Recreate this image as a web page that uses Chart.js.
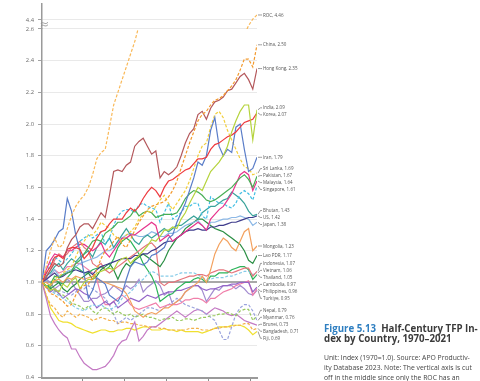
<!DOCTYPE html>
<html>
<head>
<meta charset="utf-8">
<script src="https://cdn.jsdelivr.net/npm/chart.js@4.4.1/dist/chart.umd.min.js"></script>
<style>
  html, body { margin: 0; padding: 0; background: #fff; width: 480px; height: 381px; overflow: hidden; }
  #wrap { position: relative; width: 480px; height: 381px; overflow: hidden; }
  #chart { position: absolute; left: 0; top: -4px; }
  .cap { position: absolute; left: 324px; font-family: "Open Sans", sans-serif; white-space: nowrap; }
  .title { top: 324px; font-size: 9.7px; font-weight: 700; color: #3b3b3b; line-height: 10.3px; }
  .title .fig { color: #2f7fc1; }
  .note { top: 353px; font-size: 6.8px; color: #444; line-height: 10px; }
</style>
</head>
<body>
<div id="wrap">
  <canvas id="chart" width="480" height="389"></canvas>
  <div class="cap title"><span class="fig">Figure 5.13</span>&nbsp; Half-Century TFP In-<br>dex by Country, 1970–2021</div>
  <div class="cap note">Unit: Index (1970=1.0). Source: APO Productiv-<br>ity Database 2023. Note: The vertical axis is cut<br>off in the middle since only the ROC has an</div>
</div>
<script>
// Years 1970-2021
const firstYear = 1970;
const lastYear = 2021;
const years = [];
for (let y = firstYear; y <= lastYear; y++) years.push(y);

// TFP index (1970=1.0)
const roc = [1.00,1.10,1.20,1.28,1.22,1.24,1.34,1.42,1.48,1.52,
  1.55,1.60,1.68,1.78,1.82,1.84,1.98,2.12,2.20,2.28,
  2.36,2.44,2.52,2.62,2.72,2.80,2.88,2.96,3.02,3.10,
  3.18,3.20,3.30,3.38,3.46,3.52,3.60,3.70,3.70,3.68,
  3.86,3.92,3.96,4.00,4.06,4.08,4.12,4.18,4.22,4.33,
  4.41,4.46];
const china = [1.00,0.97,0.93,0.92,0.90,0.88,0.85,0.86,0.92,0.96,
  0.98,0.99,1.03,1.08,1.15,1.20,1.22,1.26,1.29,1.24,
  1.22,1.27,1.33,1.38,1.42,1.46,1.48,1.49,1.50,1.51,
  1.54,1.58,1.64,1.72,1.80,1.88,1.95,2.02,2.06,2.08,
  2.12,2.15,2.16,2.18,2.21,2.24,2.28,2.34,2.41,2.41,
  2.36,2.50];
const hongKong = [1.00,1.03,1.08,1.12,1.10,1.12,1.22,1.27,1.30,1.35,
  1.37,1.37,1.34,1.39,1.44,1.41,1.55,1.70,1.71,1.70,
  1.74,1.76,1.86,1.89,1.91,1.86,1.81,1.83,1.66,1.70,
  1.68,1.70,1.73,1.80,1.88,1.94,1.97,2.06,2.08,2.03,
  2.10,2.14,2.15,2.17,2.21,2.22,2.26,2.30,2.32,2.28,
  2.22,2.35];
const india = [1.00,0.98,0.95,0.96,0.94,0.99,0.97,1.01,1.03,0.96,
  1.00,1.02,1.02,1.06,1.07,1.08,1.09,1.08,1.13,1.15,
  1.16,1.12,1.15,1.17,1.20,1.23,1.27,1.26,1.29,1.33,
  1.33,1.35,1.34,1.40,1.44,1.50,1.55,1.60,1.58,1.64,
  1.70,1.73,1.76,1.80,1.86,1.95,2.02,2.08,2.12,2.12,
  1.90,2.09];
const korea = [1.00,1.06,1.10,1.16,1.17,1.15,1.21,1.22,1.22,1.21,
  1.15,1.18,1.22,1.28,1.32,1.33,1.37,1.40,1.40,1.40,
  1.44,1.47,1.45,1.48,1.53,1.57,1.60,1.58,1.54,1.60,
  1.64,1.65,1.67,1.69,1.71,1.72,1.75,1.78,1.78,1.79,
  1.84,1.87,1.88,1.90,1.92,1.93,1.95,1.98,2.01,2.02,
  2.03,2.07];
const iran = [1.00,1.20,1.23,1.27,1.32,1.34,1.53,1.45,1.30,1.20,
  1.05,0.90,0.95,1.03,1.01,0.99,0.92,0.90,0.88,0.93,
  1.02,1.10,1.13,1.12,1.11,1.13,1.17,1.18,1.20,1.22,
  1.28,1.30,1.38,1.44,1.50,1.58,1.66,1.76,1.74,1.80,
  1.96,2.04,1.86,1.80,1.84,1.82,1.98,2.00,1.84,1.70,
  1.72,1.79];
const sriLanka = [1.00,0.97,0.99,1.02,1.04,1.06,1.08,1.10,1.16,1.22,
  1.26,1.30,1.30,1.33,1.38,1.36,1.34,1.30,1.28,1.26,
  1.30,1.32,1.35,1.40,1.43,1.45,1.44,1.48,1.52,1.55,
  1.50,1.46,1.50,1.54,1.58,1.64,1.72,1.80,1.86,1.88,
  1.98,2.06,2.08,2.04,1.96,1.90,1.84,1.78,1.73,1.72,
  1.68,1.69];
const pakistan = [1.00,0.97,0.99,1.04,1.03,1.05,1.06,1.07,1.12,1.14,
  1.18,1.22,1.26,1.27,1.26,1.31,1.33,1.35,1.38,1.38,
  1.40,1.42,1.46,1.42,1.44,1.45,1.44,1.41,1.42,1.43,
  1.43,1.43,1.44,1.48,1.53,1.56,1.58,1.57,1.55,1.52,
  1.51,1.52,1.54,1.56,1.58,1.60,1.63,1.66,1.68,1.65,
  1.60,1.67];
const malaysia = [1.00,1.08,1.14,1.18,1.17,1.16,1.20,1.20,1.22,1.24,
  1.24,1.22,1.20,1.22,1.25,1.19,1.16,1.20,1.24,1.28,
  1.28,1.30,1.30,1.32,1.34,1.36,1.38,1.36,1.26,1.28,
  1.30,1.26,1.28,1.30,1.32,1.34,1.36,1.38,1.36,1.33,
  1.40,1.43,1.46,1.48,1.52,1.56,1.62,1.68,1.70,1.68,
  1.58,1.64];
const singapore = [1.00,1.05,1.12,1.16,1.14,1.12,1.15,1.18,1.22,1.26,
  1.28,1.30,1.28,1.30,1.32,1.24,1.28,1.36,1.42,1.45,
  1.46,1.46,1.44,1.49,1.50,1.48,1.47,1.46,1.38,1.44,
  1.50,1.40,1.42,1.44,1.48,1.48,1.50,1.50,1.42,1.40,
  1.54,1.52,1.50,1.50,1.48,1.47,1.50,1.56,1.58,1.56,
  1.52,1.61];
const bhutan = [1.00,1.04,1.06,1.10,1.12,1.08,1.12,1.15,1.13,1.16,
  1.18,1.20,1.16,1.22,1.26,1.24,1.28,1.22,1.26,1.30,
  1.34,1.30,1.26,1.24,1.28,1.30,1.28,1.30,1.32,1.34,
  1.32,1.34,1.36,1.36,1.38,1.40,1.42,1.40,1.44,1.46,
  1.48,1.48,1.50,1.52,1.53,1.57,1.55,1.53,1.50,1.45,
  1.42,1.43];
const us = [1.00,1.02,1.04,1.06,1.03,1.04,1.06,1.07,1.08,1.07,
  1.06,1.07,1.05,1.08,1.10,1.11,1.12,1.13,1.14,1.15,
  1.15,1.15,1.17,1.17,1.18,1.18,1.20,1.21,1.23,1.25,
  1.26,1.26,1.28,1.30,1.32,1.33,1.33,1.34,1.33,1.33,
  1.35,1.35,1.36,1.36,1.37,1.38,1.38,1.39,1.40,1.41,
  1.41,1.42];
const japan = [1.00,1.01,1.05,1.08,1.04,1.05,1.07,1.08,1.10,1.12,
  1.13,1.14,1.15,1.16,1.18,1.20,1.20,1.22,1.26,1.28,
  1.30,1.31,1.30,1.29,1.29,1.30,1.32,1.31,1.29,1.29,
  1.31,1.31,1.32,1.34,1.36,1.37,1.38,1.39,1.36,1.33,
  1.38,1.38,1.39,1.40,1.40,1.41,1.41,1.42,1.41,1.40,
  1.36,1.38];
const mongolia = [1.00,1.00,0.98,1.01,1.02,1.00,1.03,1.02,1.04,1.03,
  1.02,1.03,1.04,1.02,1.01,1.00,0.99,0.98,0.97,0.96,
  0.93,0.88,0.82,0.80,0.78,0.80,0.81,0.80,0.82,0.84,
  0.84,0.86,0.88,0.90,0.94,0.96,0.98,1.00,1.04,1.00,
  1.08,1.18,1.24,1.28,1.26,1.22,1.20,1.26,1.32,1.34,
  1.20,1.23];
const lao = [1.00,0.98,0.96,0.98,1.00,0.96,0.94,0.97,0.99,1.02,
  1.04,1.06,1.02,1.04,1.08,1.10,1.12,1.08,1.02,1.08,
  1.12,1.10,1.14,1.16,1.18,1.16,1.14,1.12,1.10,1.14,
  1.20,1.24,1.28,1.30,1.34,1.36,1.38,1.40,1.40,1.38,
  1.36,1.34,1.33,1.32,1.30,1.28,1.26,1.24,1.20,1.14,
  1.12,1.17];
const indonesia = [1.00,1.04,1.08,1.14,1.18,1.16,1.18,1.22,1.24,1.26,
  1.22,1.20,1.12,1.10,1.12,1.08,1.06,1.08,1.10,1.12,
  1.14,1.16,1.18,1.20,1.22,1.24,1.25,1.22,1.00,0.98,
  1.00,1.00,1.01,1.02,1.03,1.04,1.04,1.05,1.05,1.04,
  1.06,1.07,1.08,1.08,1.07,1.06,1.07,1.08,1.09,1.09,
  1.04,1.07];
const vietnam = [1.00,0.97,0.95,0.93,0.92,0.90,0.88,0.86,0.84,0.83,
  0.82,0.84,0.86,0.85,0.86,0.84,0.83,0.84,0.86,0.90,
  0.92,0.94,0.97,1.00,1.02,1.05,1.07,1.06,1.04,1.04,
  1.04,1.04,1.05,1.06,1.06,1.06,1.06,1.05,1.03,1.02,
  1.02,1.03,1.03,1.03,1.04,1.04,1.05,1.06,1.07,1.07,
  1.05,1.06];
const thailand = [1.00,0.98,0.97,1.02,1.00,0.99,1.03,1.06,1.10,1.08,
  1.06,1.06,1.08,1.09,1.10,1.08,1.10,1.15,1.22,1.26,
  1.28,1.26,1.22,1.18,1.12,1.08,1.04,0.98,0.88,0.90,
  0.92,0.93,0.96,0.98,1.00,1.00,1.02,1.03,1.02,1.00,
  1.04,1.04,1.06,1.06,1.06,1.08,1.09,1.10,1.10,1.08,
  1.02,1.05];
const cambodia = [1.00,0.97,0.94,0.96,0.93,0.90,0.92,0.94,0.96,0.95,
  0.93,0.92,0.88,0.84,0.86,0.88,0.86,0.88,0.84,0.86,
  0.88,0.90,0.89,0.88,0.90,0.92,0.91,0.90,0.92,0.93,
  0.94,0.94,0.95,0.95,0.96,0.97,0.98,0.98,0.96,0.95,
  0.96,0.96,0.97,0.98,0.98,0.99,0.99,1.00,1.00,1.00,
  0.94,0.97];
const philippines = [1.00,1.02,1.04,1.08,1.06,1.07,1.10,1.10,1.12,1.12,
  1.10,1.08,1.06,1.02,0.92,0.86,0.86,0.88,0.90,0.92,
  0.90,0.86,0.84,0.83,0.84,0.85,0.86,0.87,0.84,0.85,
  0.86,0.86,0.86,0.87,0.89,0.89,0.90,0.90,0.89,0.87,
  0.90,0.90,0.92,0.94,0.95,0.96,0.98,0.99,1.00,1.01,
  0.92,0.96];
const turkiye = [1.00,1.02,1.00,0.96,0.98,1.00,1.02,1.00,0.96,0.92,
  0.88,0.88,0.90,0.90,0.92,0.93,0.95,0.98,0.96,0.94,
  0.98,0.96,0.98,1.02,0.94,0.97,0.99,1.01,0.98,0.92,
  0.94,0.86,0.88,0.90,0.94,0.96,0.98,0.98,0.95,0.88,
  0.92,0.96,0.95,0.98,0.98,0.98,0.96,0.98,0.96,0.93,
  0.92,0.95];
const nepal = [1.00,0.98,0.96,0.95,0.93,0.92,0.90,0.87,0.86,0.85,
  0.83,0.85,0.82,0.80,0.83,0.84,0.82,0.80,0.82,0.80,
  0.79,0.80,0.78,0.79,0.80,0.78,0.78,0.77,0.76,0.77,
  0.77,0.78,0.76,0.76,0.77,0.77,0.76,0.77,0.78,0.78,
  0.79,0.79,0.80,0.80,0.81,0.80,0.79,0.82,0.83,0.83,
  0.76,0.79];
const myanmar = [1.00,0.98,0.96,0.94,0.95,0.94,0.93,0.92,0.94,0.96,
  0.96,0.98,0.96,0.94,0.92,0.90,0.86,0.80,0.74,0.76,
  0.78,0.76,0.78,0.80,0.82,0.84,0.84,0.83,0.82,0.84,
  0.86,0.88,0.90,0.88,0.86,0.85,0.84,0.83,0.82,0.80,
  0.78,0.76,0.70,0.64,0.64,0.72,0.80,0.84,0.86,0.86,
  0.82,0.76];
const brunei = [1.00,0.90,0.79,0.74,0.70,0.67,0.65,0.58,0.58,0.53,
  0.49,0.47,0.45,0.45,0.46,0.47,0.50,0.54,0.60,0.63,
  0.64,0.70,0.75,0.63,0.66,0.70,0.72,0.72,0.74,0.76,
  0.78,0.80,0.82,0.80,0.78,0.80,0.82,0.83,0.82,0.80,
  0.82,0.84,0.83,0.82,0.80,0.79,0.80,0.78,0.76,0.75,
  0.74,0.73];
const bangladesh = [1.00,0.92,0.86,0.84,0.80,0.78,0.82,0.80,0.78,0.80,
  0.79,0.78,0.76,0.77,0.78,0.77,0.76,0.76,0.74,0.75,
  0.75,0.74,0.74,0.73,0.73,0.72,0.72,0.72,0.71,0.71,
  0.70,0.70,0.70,0.70,0.70,0.71,0.71,0.71,0.70,0.70,
  0.70,0.71,0.71,0.72,0.72,0.72,0.73,0.73,0.74,0.74,
  0.70,0.71];
const fiji = [1.00,0.92,0.84,0.80,0.76,0.75,0.75,0.74,0.72,0.71,
  0.70,0.69,0.68,0.69,0.70,0.70,0.69,0.69,0.70,0.70,
  0.71,0.71,0.70,0.71,0.72,0.72,0.70,0.70,0.70,0.71,
  0.70,0.70,0.69,0.70,0.69,0.69,0.69,0.69,0.68,0.69,
  0.70,0.71,0.72,0.72,0.72,0.73,0.73,0.73,0.72,0.70,
  0.67,0.69];

// Series order, names and styles
const countries = ['ROC', 'China', 'Hong Kong', 'India', 'Korea', 'Iran', 'Sri Lanka', 'Pakistan',
  'Malaysia', 'Singapore', 'Bhutan', 'US', 'Japan', 'Mongolia', 'Lao PDR', 'Indonesia', 'Vietnam',
  'Thailand', 'Cambodia', 'Philippines', 'Turkiye', 'Nepal', 'Myanmar', 'Brunei', 'Bangladesh', 'Fiji'];
const series = [roc, china, hongKong, india, korea, iran, sriLanka, pakistan, malaysia, singapore,
  bhutan, us, japan, mongolia, lao, indonesia, vietnam, thailand, cambodia, philippines, turkiye,
  nepal, myanmar, brunei, bangladesh, fiji];
const colors = ['#F9B857', '#F39A2E', '#B4585C', '#B5D33D', '#EE3A3F', '#5A7DC8', '#F2CF3B', '#47AE55',
  '#E6348C', '#44BFE3', '#3AA39A', '#3F3C8C', '#8CB8E6', '#F3A15E', '#2B8F45', '#E6757C', '#86CBE8',
  '#2CB45A', '#9465C8', '#F07FAA', '#A38BD0', '#98C95F', '#9AA3DD', '#C47AC4', '#F3B04A', '#F0E030'];
const dashed = ['ROC', 'China', 'Sri Lanka', 'Singapore', 'Vietnam', 'Nepal', 'Myanmar', 'Bangladesh'];

// Axis ticks
const lowerTicks = [0.4, 0.6, 0.8, 1.0, 1.2, 1.4, 1.6, 1.8, 2.0, 2.2, 2.4, 2.6];
const upperTicks = [4.4, 4.6];
const xTicks = [1979.5, 1989.5, 1999.5, 2009.5, 2019.5];

const datasets = [];
countries.forEach((name, i) => {
  const points = years.map((yr, k) => ({ x: yr, y: series[i][k] }));
  const base = {
    label: name,
    data: points,
    borderColor: colors[i],
    borderWidth: 1.2,
    borderDash: dashed.includes(name) ? [3, 1.8] : [],
    pointRadius: 0,
    tension: 0,
    fill: false
  };
  datasets.push(Object.assign({}, base, { yAxisID: 'y' }));
  if (name === 'ROC') {
    datasets.push(Object.assign({}, base, { label: 'ROC-upper', yAxisID: 'y2' }));
  }
});

// keep each line inside its own (stacked) y-axis band
const bandClip = {
  id: 'bandClip',
  beforeDatasetDraw(chart, args) {
    const ys = args.meta.yScale;
    const a = chart.chartArea;
    chart.ctx.save();
    chart.ctx.beginPath();
    chart.ctx.rect(a.left, ys.top - 0.5, a.right - a.left + 1, ys.bottom - ys.top + 1);
    chart.ctx.clip();
  },
  afterDatasetDraw(chart) {
    chart.ctx.restore();
  }
};

// end labels with leader lines, plus the axis break mark
const endLabels = {
  id: 'endLabels',
  afterDraw(chart) {
    const ctx = chart.ctx;
    const xs = chart.scales.x;
    const xEnd = xs.getPixelForValue(lastYear);
    const items = countries.map((name, i) => {
      const v = series[i][series[i].length - 1];
      const scale = v > 2.6 ? chart.scales.y2 : chart.scales.y;
      const py = scale.getPixelForValue(v);
      return { text: name + ', ' + v.toFixed(2), target: py, y: py };
    });
    spread(items, 7);

    ctx.save();
    ctx.strokeStyle = '#707070';
    ctx.lineWidth = 0.7;
    ctx.fillStyle = '#555';
    ctx.font = '5.4px "Open Sans", sans-serif';
    ctx.textBaseline = 'middle';
    items.forEach(it => {
      ctx.beginPath();
      ctx.moveTo(xEnd + 1, it.target);
      ctx.lineTo(xEnd + 3.5, it.y);
      ctx.lineTo(xEnd + 5, it.y);
      ctx.stroke();
      // condensed look of the source labels
      ctx.save();
      ctx.translate(xEnd + 6, it.y);
      ctx.scale(0.84, 1);
      ctx.fillText(it.text, 0, 0);
      ctx.restore();
    });

    // break mark between the two y-axis bands
    const left = chart.chartArea.left;
    const by = chart.scales.y.top - 5;
    ctx.strokeStyle = '#8a8a8a';
    ctx.lineWidth = 0.8;
    for (const off of [-1.2, 1.2]) {
      ctx.beginPath();
      ctx.moveTo(left - 1, by + off + 1);
      ctx.bezierCurveTo(left + 1, by + off - 2, left + 3, by + off + 3, left + 6, by + off - 0.5);
      ctx.stroke();
    }
    ctx.restore();
  }
};

function spread(items, gap) {
  items.sort((a, b) => a.target - b.target);
  let groups = items.map(it => ({ members: [it], mean: it.target }));
  let merged = true;
  while (merged) {
    merged = false;
    for (let i = 0; i < groups.length - 1; i++) {
      const a = groups[i], b = groups[i + 1];
      const aBottom = a.mean + (a.members.length - 1) * gap / 2;
      const bTop = b.mean - (b.members.length - 1) * gap / 2;
      if (bTop - aBottom < gap) {
        const members = a.members.concat(b.members);
        const mean = members.reduce((s, m) => s + m.target, 0) / members.length;
        groups.splice(i, 2, { members, mean });
        merged = true;
        break;
      }
    }
  }
  groups.forEach(g => g.members.forEach((m, k) => {
    m.y = g.mean - (g.members.length - 1) * gap / 2 + k * gap;
  }));
}

const tickFont = { family: '"Open Sans", sans-serif', size: 5.8 };
const gridColor = c => (c.tick && Math.abs(c.tick.value - 1) < 1e-6) ? '#a8a8a8' : '#e3e3e3';
const gridWidth = c => (c.tick && Math.abs(c.tick.value - 1) < 1e-6) ? 2 : 0.8;

new Chart(document.getElementById('chart'), {
  type: 'line',
  data: { datasets },
  options: {
    responsive: false,
    animation: false,
    events: [],
    layout: { padding: { left: 0, right: 480 - 257, top: 0, bottom: 0 } },
    plugins: { legend: { display: false }, tooltip: { enabled: false } },
    scales: {
      x: {
        type: 'linear',
        min: firstYear,
        max: lastYear,
        afterBuildTicks: s => { s.ticks = xTicks.map(v => ({ value: v })); },
        afterFit: s => { s.height = 5; },
        ticks: { display: false },
        grid: { drawOnChartArea: false, tickLength: 4, tickColor: '#8c8c8c', tickWidth: 1 },
        border: { color: '#9a9a9a', width: 2 }
      },
      y: {
        type: 'linear',
        position: 'left',
        stack: 'yband',
        stackWeight: 349,
        weight: 0,
        min: 0.4,
        max: 2.6,
        afterBuildTicks: s => { s.ticks = lowerTicks.map(v => ({ value: v })); },
        afterFit: s => { s.width = 42; },
        ticks: { font: tickFont, color: '#6b6b6b', padding: 4, callback: v => v.toFixed(1) },
        grid: { color: gridColor, lineWidth: gridWidth, tickLength: 4, tickColor: '#8c8c8c', tickWidth: 0.8 },
        border: { color: '#9a9a9a', width: 1.5 }
      },
      y2: {
        type: 'linear',
        position: 'left',
        stack: 'yband',
        stackWeight: 25.5,
        weight: 1,
        min: 4.29,
        max: 4.6,
        afterBuildTicks: s => { s.ticks = upperTicks.map(v => ({ value: v })); },
        afterFit: s => { s.width = 42; },
        ticks: { font: tickFont, color: '#6b6b6b', padding: 4, callback: v => v.toFixed(1) },
        grid: { color: '#e3e3e3', lineWidth: 0.8, tickLength: 4, tickColor: '#8c8c8c', tickWidth: 0.8 },
        border: { color: '#9a9a9a', width: 1.5 }
      }
    }
  },
  plugins: [bandClip, endLabels]
});
</script>
</body>
</html>
